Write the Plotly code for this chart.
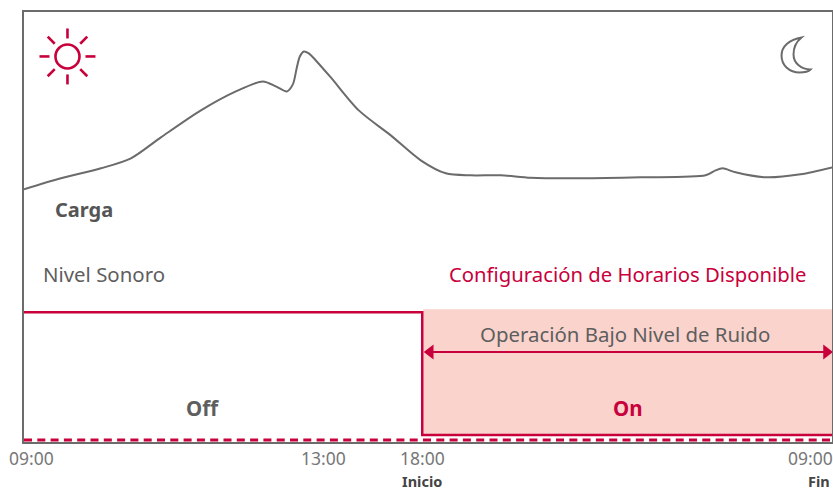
"""Load curve over a day with the low-noise schedule window."""
import plotly.graph_objects as go

_RED = "#C8003C"
_GRAY = "#6B6B6B"
_TEXT = "#5E5E5E"
_PINK = "#F9D3CC"
_FONT = "Noto Sans, Open Sans, sans-serif"

W, H = 833, 491
L, R, T, B = 24, 832.5, 11.5, 442

# curve (x along the timeline, y above the baseline)
load_x = [0, 37, 77, 107, 137, 177, 212, 239, 252, 263, 269, 273, 276, 280, 285, 292, 307, 335,
          367, 397, 422, 447, 477, 507, 557, 617, 682, 692, 699, 712, 742, 777, 809]
load_y = [253, 264, 274, 284, 305, 332, 351, 361, 356, 351, 358, 375, 386, 391, 389, 382, 365, 332,
          307, 282, 269, 267, 267, 264.5, 264, 265, 267, 272, 274, 270, 265, 268, 275]

# noise level step
step_x = [0, 398.5, 398.5, 809]
step_y = [130, 130, 7, 7]
window_x = [399.5, 809]
window_top = 133
window_bottom = 7
dash_y = 2
arrow_y = 90

tick_labels = ["09:00", "13:00", "18:00", "09:00"]
tick_px = [32, 324, 422.5, 811]
sub_labels = ["Inicio", "Fin"]
sub_px = [422.5, 819]


def px(x, y):
    return f"{x - L:.1f},{B - y:.1f}"


def sun_shapes(cx, cy, r, r1, r2):
    out = [dict(type="circle", x0=cx - L - r, x1=cx - L + r, y0=B - cy - r, y1=B - cy + r,
                line=dict(color=_RED, width=2.6))]
    d = 0.7071
    for dx, dy in [(1, 0), (-1, 0), (0, 1), (0, -1), (d, d), (d, -d), (-d, d), (-d, -d)]:
        out.append(dict(type="line", x0=cx - L + dx * r1, x1=cx - L + dx * r2,
                        y0=B - cy + dy * r1, y1=B - cy + dy * r2,
                        line=dict(color=_RED, width=2.6)))
    return out


moon = (f"M {px(802, 37)} C {px(790, 39)} {px(782, 46)} {px(782, 55)} "
        f"C {px(782, 65)} {px(790, 72)} {px(800, 72)} C {px(805, 72)} {px(809, 71)} {px(811, 69)} "
        f"C {px(802, 69)} {px(794, 63)} {px(794, 54)} C {px(794, 47)} {px(797, 41)} {px(802, 37)} Z")

fig = go.Figure()
fig.add_trace(go.Scatter(x=load_x, y=load_y, mode="lines",
                         line=dict(color=_GRAY, width=2, shape="spline", smoothing=0.8),
                         hoverinfo="skip"))
fig.add_trace(go.Scatter(x=[0, 809], y=[dash_y, dash_y], mode="lines",
                         line=dict(color=_RED, width=3, dash="8px,5.3px"), hoverinfo="skip"))
fig.add_trace(go.Scatter(x=step_x, y=step_y, mode="lines",
                         line=dict(color=_RED, width=2.5), hoverinfo="skip"))
fig.add_trace(go.Scatter(x=[window_x[0] + 7, window_x[1] - 6], y=[arrow_y, arrow_y],
                         mode="lines+markers",
                         line=dict(color=_RED, width=2),
                         marker=dict(symbol=["triangle-left", "triangle-right"], size=13,
                                     color=_RED, line=dict(width=0)),
                         hoverinfo="skip"))

shapes = [dict(type="rect", x0=window_x[0], x1=window_x[1], y0=window_bottom, y1=window_top,
               fillcolor=_PINK, line=dict(width=0), layer="below"),
          dict(type="path", path=moon, line=dict(color=_GRAY, width=2))]
shapes += sun_shapes(67.5, 56, 12, 18, 28)


def page_note(text, x, y, size, color, bold=False):
    return dict(x=(x - L) / (R - L), y=(B - y) / (B - T), xref="paper", yref="paper", text=text,
                showarrow=False, font=dict(family=_FONT, size=size, color=color, weight=700 if bold else 400),
                xanchor="center", yanchor="middle")


annotations = [
    page_note("Carga", 84, 209, 20, "#555555", True),
    page_note("Nivel Sonoro", 104, 274, 20.4, _TEXT),
    page_note("Configuración de Horarios Disponible", 628, 274, 20.3, _RED),
    page_note("Operación Bajo Nivel de Ruido", 625, 334, 20.4, _TEXT),
    page_note("Off", 203, 408, 20.5, _TEXT, True),
    page_note("On", 628, 408, 20.5, _RED, True),
]
annotations += [page_note(t, x, 458, 17.5, "#777777") for t, x in zip(tick_labels, tick_px)]
annotations += [page_note(t, x, 481, 14.5, "#444444", True) for t, x in zip(sub_labels, sub_px)]

fig.update_layout(
    width=W, height=H,
    margin=dict(l=L, r=W - R, t=T, b=H - B, pad=0),
    paper_bgcolor="white", plot_bgcolor="rgba(0,0,0,0)",
    showlegend=False, shapes=shapes, annotations=annotations,
)
fig.update_xaxes(range=[0, R - L], showgrid=False, zeroline=False, showticklabels=False, ticks="",
                 showline=True, linecolor=_GRAY, linewidth=1.5, mirror=True)
fig.update_yaxes(range=[0, B - T], showgrid=False, zeroline=False, showticklabels=False, ticks="",
                 showline=True, linecolor=_GRAY, linewidth=1.5, mirror=True)

fig.write_html("out.html", config=dict(displayModeBar=False),
               post_script="document.body.style.margin='0';")
